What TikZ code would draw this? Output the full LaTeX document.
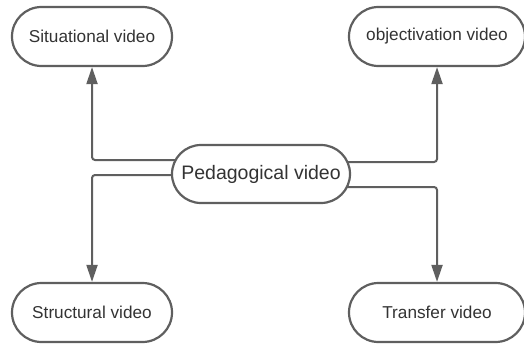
\documentclass[tikz,border=0pt]{standalone}
\usepackage{fontspec}
\setmainfont{Liberation Sans}
\usetikzlibrary{shapes.misc,arrows.meta,backgrounds}
\definecolor{edgegray}{HTML}{5F5F5F}
\definecolor{textgray}{HTML}{333333}
\tikzset{
    vidbox/.style={rounded rectangle, draw=edgegray, line width=2.2pt, fill=white,
        text=textgray, minimum height=59pt, inner sep=0pt, font=\fontsize{17.2}{20}\selectfont},
    hubbox/.style={vidbox, minimum height=58pt, minimum width=178pt, font=\fontsize{19.5}{23}\selectfont},
    link/.style={draw=edgegray, line width=2pt, rounded corners=3pt,
        -{Triangle[length=17pt,width=11pt]}},
}

\begin{document}
\begin{tikzpicture}[x=1pt,y=-1pt]
                \useasboundingbox (0,0) rectangle (524,345);
                % video boxes
                \node[hubbox] (hub) at (261,174) {Pedagogical video};
                \node[vidbox, minimum width=160pt] (sit) at (92,36.5) {Situational video};
                \node[vidbox, minimum width=176pt] (obj) at (437,36.5) {objectivation video};
                \node[vidbox, minimum width=160pt] (str) at (92,312.5) {Structural video};
                \node[vidbox, minimum width=176pt] (tra) at (437,312.5) {Transfer video};
                % connectors behind the boxes
                \begin{scope}[on background layer]
                    \draw[link] ([yshift=14pt]hub.center) -| (sit);
                    \draw[link] ([yshift=12pt]hub.center) -| (obj);
                    \draw[link] ([yshift=-1pt]hub.center) -| (str);
                    \draw[link] ([yshift=-13pt]hub.center) -| (tra);
                \end{scope}
            \end{tikzpicture}
\end{document}
